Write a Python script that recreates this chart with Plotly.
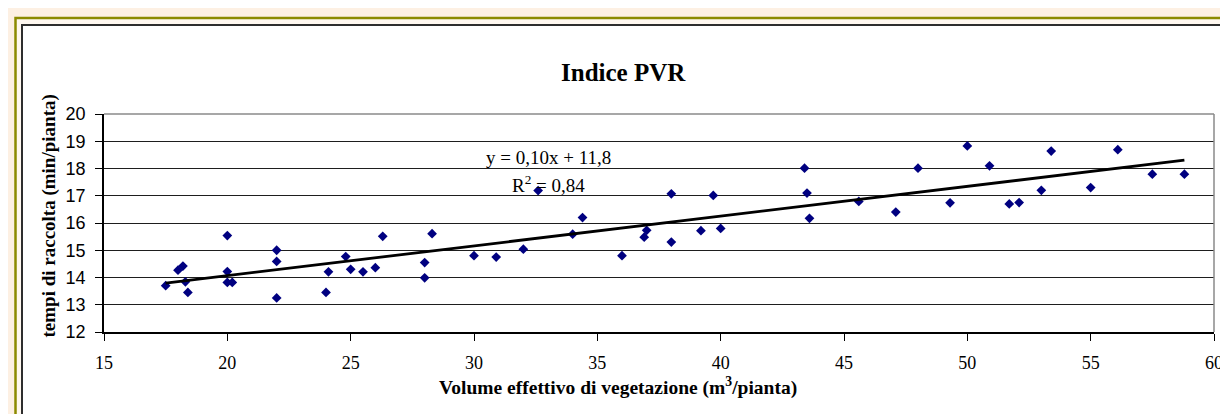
import numpy as np
import plotly.graph_objects as go

# ---- data ----
volume = [17.5, 18.0, 18.2, 18.3, 18.4, 20.0, 20.0, 20.0, 20.2, 22.0, 22.0, 22.0,
          24.0, 24.1, 24.8, 25.0, 25.5, 26.0, 26.3, 28.0, 28.0, 28.3, 30.0, 30.9,
          32.0, 32.6, 34.0, 34.4, 36.0, 36.9, 37.0, 38.0, 38.0, 39.2, 39.7, 40.0,
          43.4, 43.5, 43.6, 45.6, 47.1, 48.0, 49.3, 50.0, 50.9, 51.7, 52.1, 53.0,
          53.4, 55.0, 56.1, 57.5, 58.8]
tempi = [13.70, 14.27, 14.42, 13.84, 13.45, 15.54, 14.22, 13.82, 13.82, 15.00, 14.59, 13.25,
         13.45, 14.21, 14.77, 14.30, 14.21, 14.36, 15.51, 14.55, 13.99, 15.61, 14.80, 14.75,
         15.04, 17.19, 15.59, 16.20, 14.80, 15.48, 15.73, 17.07, 15.30, 15.72, 17.01, 15.80,
         18.01, 17.10, 16.17, 16.79, 16.40, 18.01, 16.74, 18.83, 18.10, 16.70, 16.75, 17.20,
         18.64, 17.30, 18.69, 17.79, 17.79]
x_ticks = [15, 20, 25, 30, 35, 40, 45, 50, 55, 60]
y_ticks = [12, 13, 14, 15, 16, 17, 18, 19, 20]
title_text = "<b>Indice PVR</b>"
x_title = "<b>Volume effettivo di vegetazione (m<sup>3</sup>/pianta)</b>"
y_title = "<b>tempi di raccolta (min/pianta)</b>"
eq_text = "y = 0,10x + 11,8"
r2_text = "R<sup>2</sup> = 0,84"

# linear trend line fitted from the data
slope, intercept = np.polyfit(volume, tempi, 1)
trend_x = [min(volume), max(volume)]
trend_y = [slope * v + intercept for v in trend_x]

W, H = 1228, 414
L, R, T, B = 96, 22, 106, 90
PW, PH = W - L - R, H - T - B


def px(xp):
    return (xp - L) / PW


def py(yp):
    return (H - B - yp) / PH


SERIF = "Liberation Serif, Times New Roman, serif"
SANS = "Liberation Sans, Arial, sans-serif"

fig = go.Figure()
fig.add_trace(go.Scatter(
    x=volume, y=tempi, mode="markers",
    marker=dict(symbol="diamond", size=7.5, color="#000080", line=dict(width=0)),
    showlegend=False, hoverinfo="x+y"))
fig.add_trace(go.Scatter(
    x=trend_x, y=trend_y, mode="lines",
    line=dict(color="black", width=2.8), showlegend=False, hoverinfo="skip"))

shapes = [
    # outer olive frame
    dict(type="rect", xref="paper", yref="paper", x0=px(7.5), x1=px(1260), y0=py(10), y1=py(440),
         line=dict(color="#8C8A00", width=2.5), fillcolor="#FFF8F0", layer="below"),
    # inner dark frame
    dict(type="rect", xref="paper", yref="paper", x0=px(14), x1=px(1260), y0=py(17), y1=py(440),
         line=dict(color="#2E2E2E", width=2), fillcolor="white", layer="below"),
    # plot-area border (top and right, grey)
    dict(type="line", xref="paper", yref="paper", x0=0, x1=1, y0=1, y1=1,
         line=dict(color="#8A8A8A", width=1.5), layer="above"),
    dict(type="line", xref="paper", yref="paper", x0=1, x1=1, y0=0, y1=1,
         line=dict(color="#8A8A8A", width=1.5), layer="above"),
]

annotations = [
    dict(text=title_text, xref="paper", yref="paper", x=px(615), y=py(64),
         xanchor="center", yanchor="middle", showarrow=False,
         font=dict(family=SERIF, size=25, color="black")),
    dict(text=x_title, xref="paper", yref="paper", x=px(610), y=py(378),
         xanchor="center", yanchor="middle", showarrow=False,
         font=dict(family=SERIF, size=19.5, color="black")),
    dict(text=y_title, xref="paper", yref="paper", x=px(40), y=py(208.5),
         xanchor="center", yanchor="middle", showarrow=False, textangle=-90,
         font=dict(family=SERIF, size=19, color="black")),
    dict(text=eq_text, xref="paper", yref="paper", x=px(540), y=py(149),
         xanchor="center", yanchor="middle", showarrow=False,
         font=dict(family=SERIF, size=19, color="black")),
    dict(text=r2_text, xref="paper", yref="paper", x=px(540), y=py(176),
         xanchor="center", yanchor="middle", showarrow=False,
         font=dict(family=SERIF, size=19, color="black")),
]

fig.update_layout(
    width=W, height=H,
    margin=dict(l=L, r=R, t=T, b=B, pad=0),
    paper_bgcolor="#FDF0E3", plot_bgcolor="white",
    shapes=shapes, annotations=annotations,
    xaxis=dict(range=[15, 60], tickvals=x_ticks, ticktext=[str(v) for v in x_ticks],
               showgrid=False, zeroline=False, showline=True, linecolor="black", linewidth=1.5,
               ticks="outside", ticklen=7, tickwidth=1, tickcolor="black",
               ticklabelstandoff=7,
               tickfont=dict(family=SERIF, size=18, color="black")),
    yaxis=dict(range=[12, 20], tickvals=y_ticks, ticktext=[str(v) for v in y_ticks],
               showgrid=True, gridcolor="#1E1E1E", gridwidth=1, zeroline=False,
               showline=True, linecolor="black", linewidth=1.5,
               ticks="outside", ticklen=7, tickwidth=1, tickcolor="black",
               ticklabelstandoff=6,
               tickfont=dict(family=SANS, size=18, color="black")),
)

fig.write_html("out.html")
